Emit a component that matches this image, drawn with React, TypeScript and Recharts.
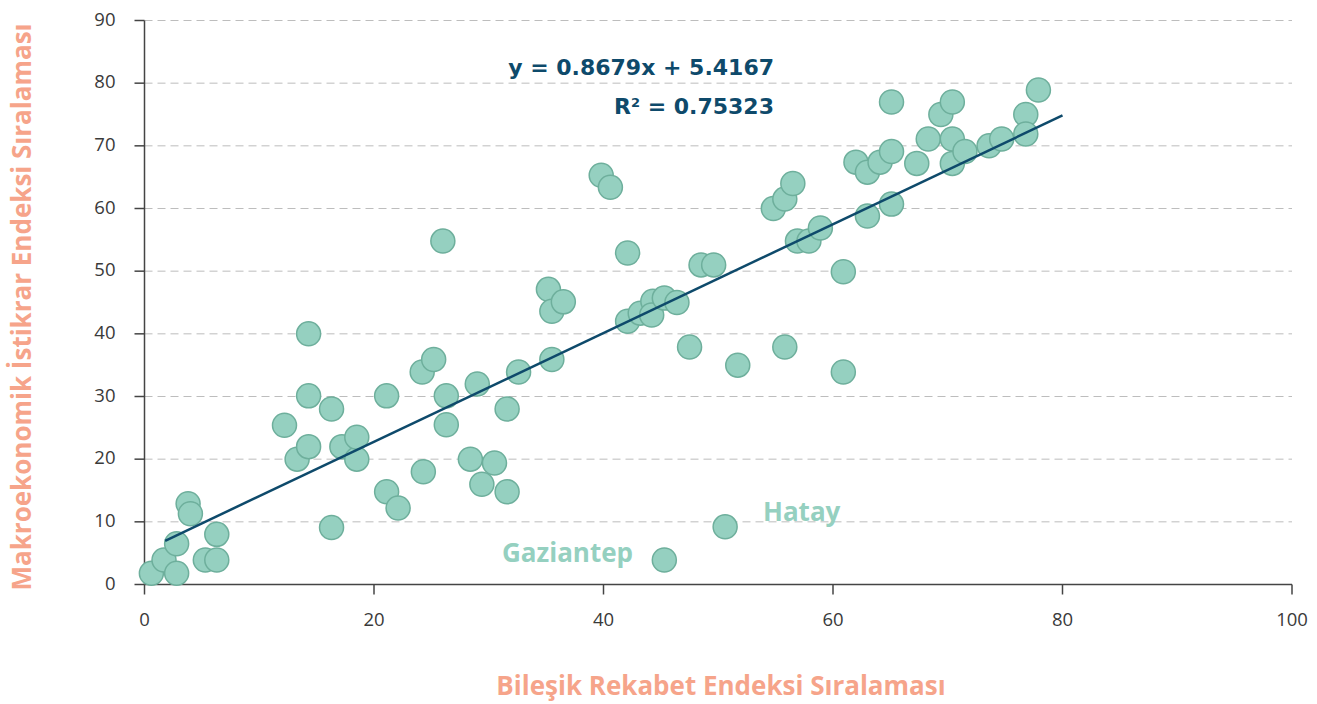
import { ScatterChart, Scatter, XAxis, YAxis, CartesianGrid } from 'recharts';

// Bileşik Rekabet Endeksi sıralaması (x) ve Makroekonomik İstikrar Endeksi sıralaması (y)
const competitivenessRank = [
  0.6, 1.7, 2.8, 2.8, 3.8, 4.0, 5.3, 6.3, 6.3,
  12.2, 13.3, 14.3, 14.3, 14.3, 16.3, 16.3, 17.2, 18.5, 18.5,
  21.1, 21.1, 22.1, 24.3, 24.2, 25.2, 26.0, 26.3, 26.3,
  28.4, 29.0, 29.4, 30.5, 31.6, 31.6, 32.6,
  35.2, 35.5, 36.5, 35.5,
  39.8, 40.6, 42.1, 42.1, 43.2, 44.3, 44.2, 45.3, 46.4,
  45.3, 50.6, 47.5, 48.5, 49.6, 51.7,
  54.8, 55.8, 56.5, 56.9, 57.9, 58.9, 55.8, 60.9, 60.9,
  62.0, 63.0, 64.1, 65.1, 63.0, 65.1, 65.1, 67.3, 68.3,
  69.4, 70.4, 70.4, 70.4, 71.5, 73.6, 74.7, 76.8, 76.8, 77.9,
];
const stabilityRank = [
  1.8, 3.9, 1.8, 6.5, 12.9, 11.3, 3.9, 3.9, 8.0,
  25.4, 20.0, 22.0, 30.1, 40.0, 9.1, 28.0, 22.0, 20.0, 23.5,
  30.1, 14.8, 12.2, 18.0, 33.9, 35.9, 54.8, 30.1, 25.5,
  20.0, 32.0, 16.0, 19.4, 28.0, 14.8, 33.9,
  47.1, 43.6, 45.1, 35.9,
  65.3, 63.4, 52.9, 42.0, 43.3, 45.2, 43.0, 45.7, 45.0,
  3.9, 9.2, 37.9, 51.0, 51.0, 35.0,
  60.0, 61.5, 64.0, 54.8, 54.8, 56.9, 37.9, 49.9, 33.9,
  67.4, 65.8, 67.4, 69.1, 58.8, 60.7, 77.0, 67.2, 71.1,
  75.0, 77.0, 71.1, 67.2, 69.1, 70.0, 71.1, 75.0, 71.9, 78.9,
];

const xTicks = [0, 20, 40, 60, 80, 100];
const yTicks = [0, 10, 20, 30, 40, 50, 60, 70, 80, 90];

// regression line as printed on the chart
const slope = 0.8679;
const intercept = 5.4167;
const trendRange = [1.8, 80];

const points = competitivenessRank.map((x, i) => ({ x, y: stabilityRank[i] }));
const trend = trendRange.map((x) => ({ x, y: slope * x + intercept }));

const POINT_FILL = '#95d0c0';
const POINT_STROKE = '#6eaf9c';
const LINE_COLOR = '#0e4a6b';
const TITLE_COLOR = '#f6a48a';
const TICK_COLOR = '#3a3a3a';

const Dot = (props: any) => (
  <circle cx={props.cx} cy={props.cy} r={12} fill={POINT_FILL} stroke={POINT_STROKE} strokeWidth={1.5} />
);

const XTick = ({ x, y, payload }: any) => (
  <text x={x} y={y + 29} textAnchor="middle" fontFamily="Open Sans" fontWeight={500} fontSize={18.5} fill={TICK_COLOR}>
    {payload.value}
  </text>
);

const YTick = ({ x, y, payload }: any) => (
  <text x={x - 17} y={y + 5} textAnchor="end" fontFamily="Open Sans" fontWeight={500} fontSize={18.5} fill={TICK_COLOR}>
    {payload.value}
  </text>
);

const App = () => {
  return (
    <div style={{ position: 'absolute', left: 0, top: 0, width: 1317, height: 704, background: '#fff' }}>
      <ScatterChart width={1317} height={704} margin={{ top: 20.5, right: 25, bottom: 0, left: 0 }}>
        <CartesianGrid vertical={false} strokeDasharray="8 5" stroke="#bdbdbd" />
        <XAxis
          type="number"
          dataKey="x"
          domain={[0, 100]}
          ticks={xTicks}
          height={119.5}
          tickSize={10}
          stroke="#444"
          strokeWidth={1.5}
          tick={<XTick />}
        />
        <YAxis
          type="number"
          dataKey="y"
          domain={[0, 90]}
          ticks={yTicks}
          width={144.5}
          tickSize={10}
          stroke="#444"
          strokeWidth={1.5}
          tick={<YTick />}
        />
        <Scatter data={points} shape={Dot} isAnimationActive={false} />
        <Scatter
          data={trend}
          line={{ stroke: LINE_COLOR, strokeWidth: 2.5 }}
          shape={() => <g />}
          isAnimationActive={false}
        />
      </ScatterChart>

      <div
        style={{
          position: 'absolute', right: 543, top: 53, textAlign: 'right',
          fontFamily: 'DejaVu Sans', fontWeight: 'bold', fontSize: 22, lineHeight: '30px',
          color: LINE_COLOR, whiteSpace: 'nowrap',
        }}
      >
        y = 0.8679x + 5.4167
      </div>
      <div
        style={{
          position: 'absolute', right: 543, top: 92, textAlign: 'right',
          fontFamily: 'DejaVu Sans', fontWeight: 'bold', fontSize: 22, lineHeight: '30px',
          color: LINE_COLOR, whiteSpace: 'nowrap',
        }}
      >
        R<sup style={{ fontSize: 13, verticalAlign: 'top', lineHeight: '22px' }}>2</sup> = 0.75323
      </div>

      <div
        style={{
          position: 'absolute', left: 502, top: 536, fontFamily: 'Open Sans', fontWeight: 'bold',
          fontSize: 26, lineHeight: '32px', color: POINT_FILL, whiteSpace: 'nowrap',
        }}
      >
        Gaziantep
      </div>
      <div
        style={{
          position: 'absolute', left: 763, top: 495, fontFamily: 'Open Sans', fontWeight: 'bold',
          fontSize: 26, lineHeight: '32px', color: POINT_FILL, whiteSpace: 'nowrap',
        }}
      >
        Hatay
      </div>

      <div
        style={{
          position: 'absolute', left: 721, top: 685, transform: 'translate(-50%, -50%)',
          fontFamily: 'Open Sans', fontWeight: 'bold', fontSize: 26, lineHeight: '24px',
          color: TITLE_COLOR, whiteSpace: 'nowrap',
        }}
      >
        Bileşik Rekabet Endeksi Sıralaması
      </div>
      <div
        style={{
          position: 'absolute', left: 21, top: 307, transform: 'translate(-50%, -50%) rotate(-90deg)',
          fontFamily: 'Open Sans', fontWeight: 'bold', fontSize: 26, lineHeight: '28px',
          color: TITLE_COLOR, whiteSpace: 'nowrap',
        }}
      >
        Makroekonomik İstikrar Endeksi Sıralaması
      </div>
    </div>
  );
};

export default App;
